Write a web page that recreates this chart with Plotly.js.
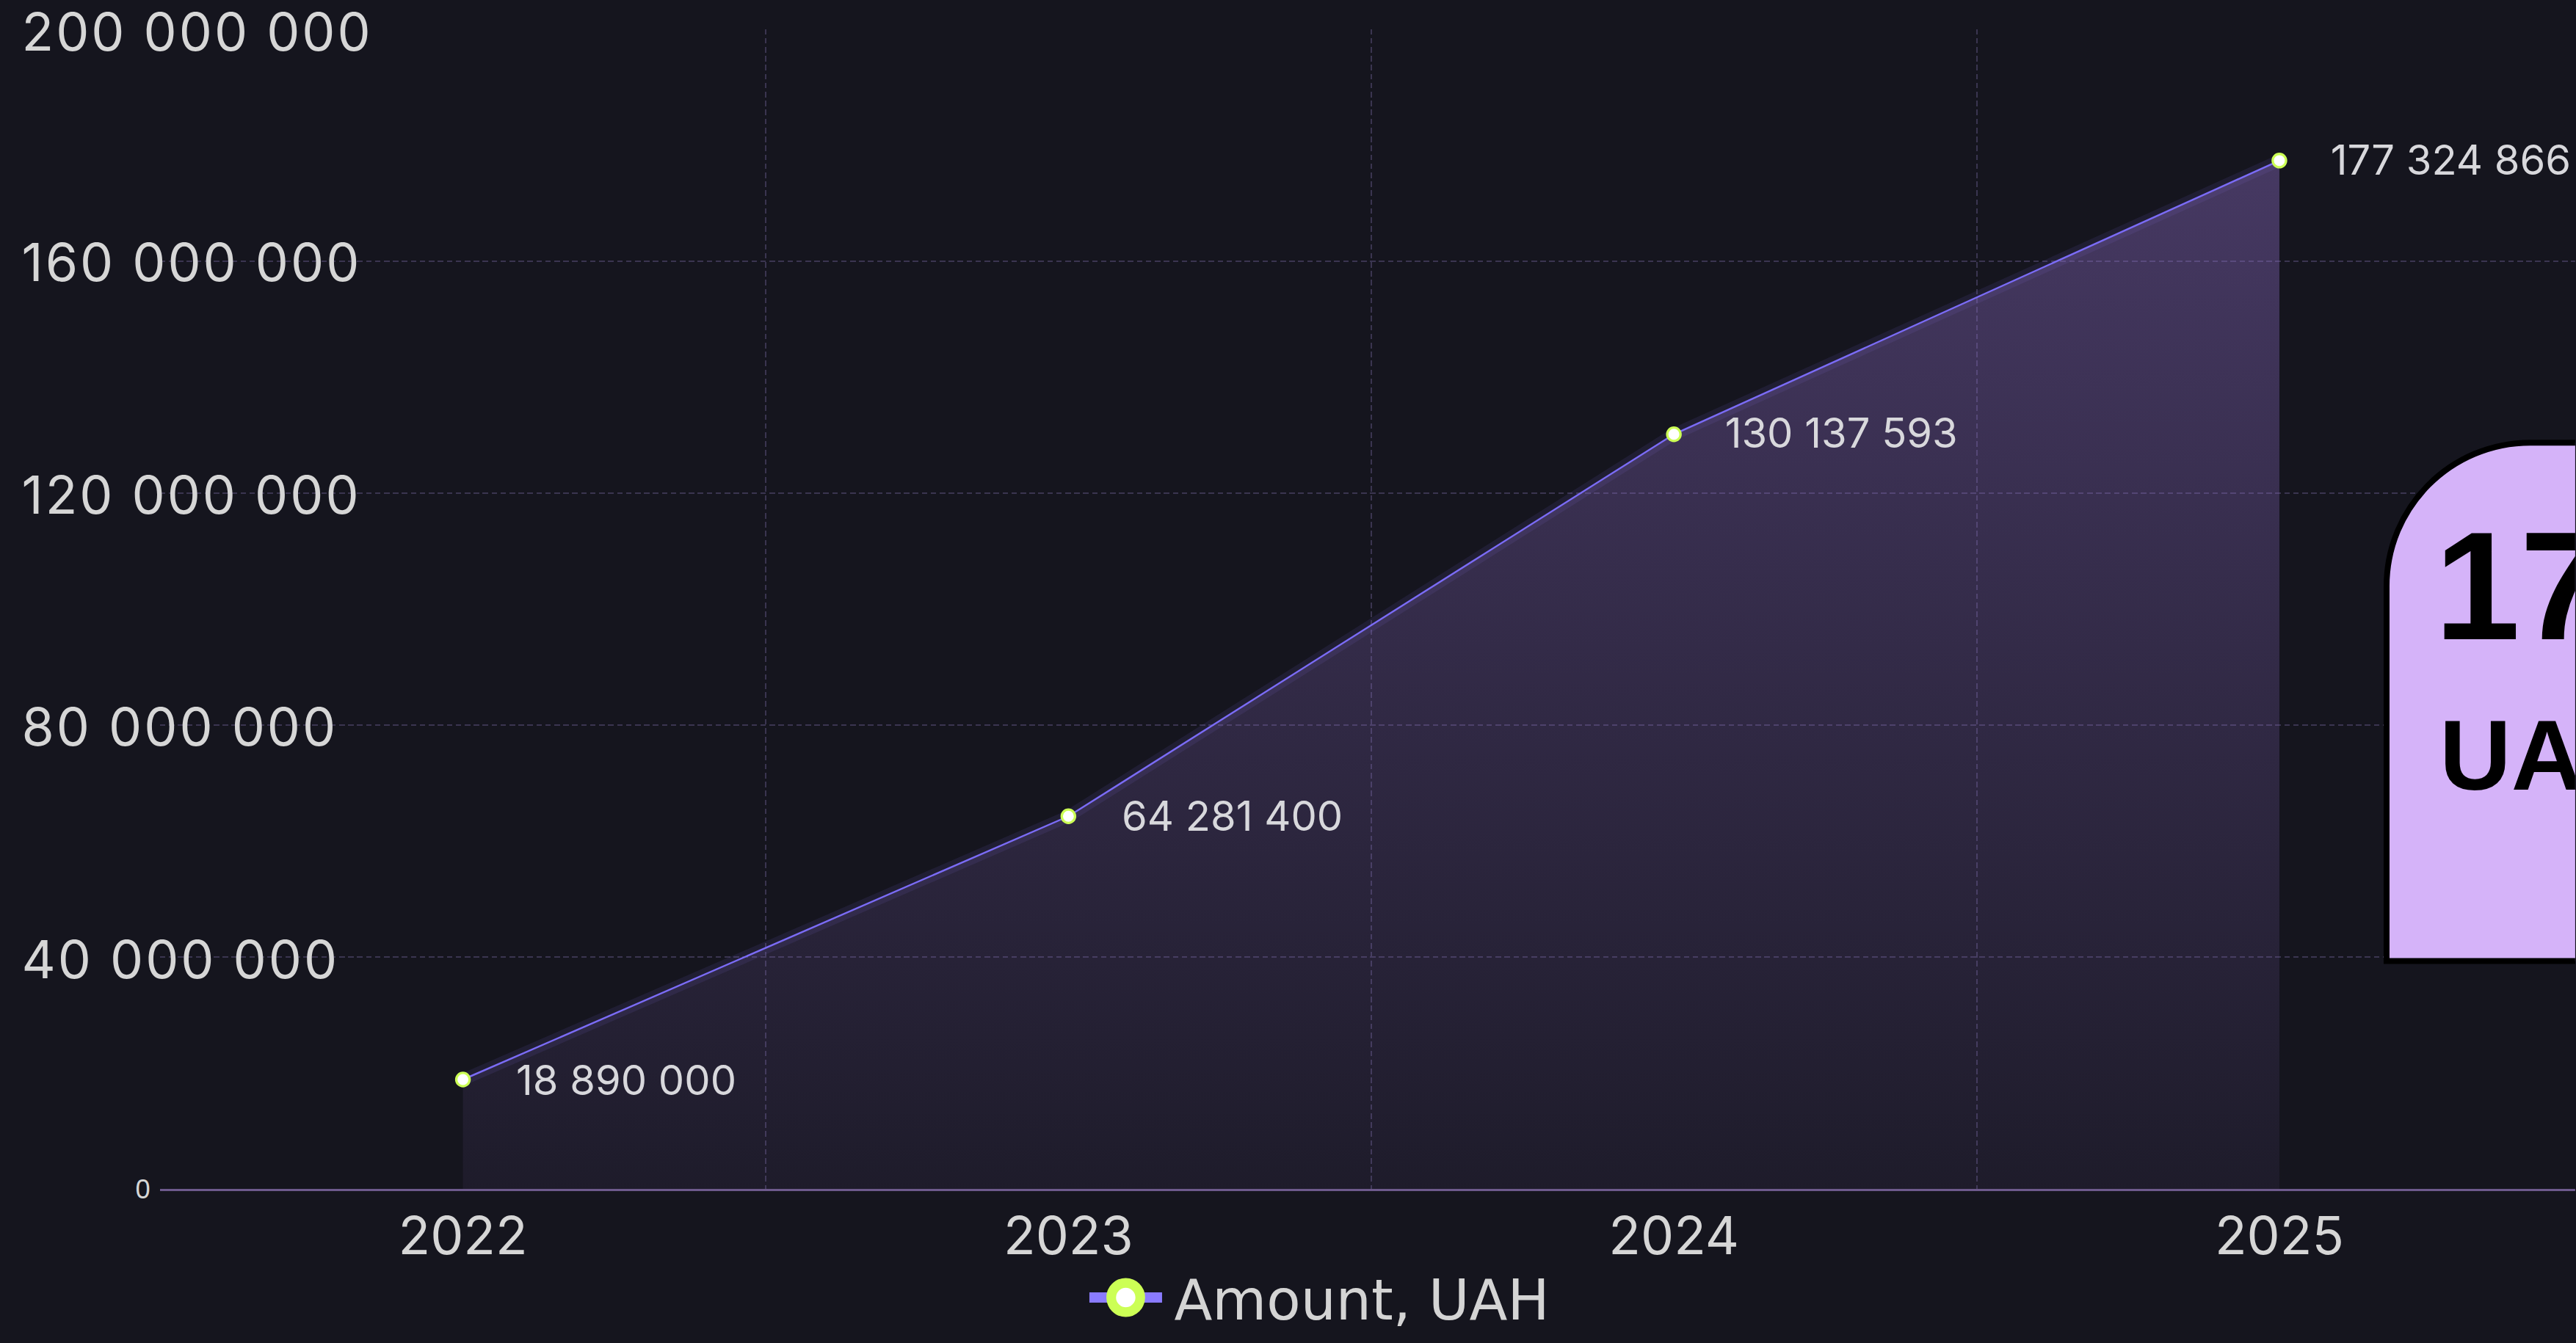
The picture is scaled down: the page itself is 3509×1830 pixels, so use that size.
<!DOCTYPE html>
<html>
<head>
<meta charset="utf-8">
<script src="https://cdn.plot.ly/plotly-3.0.1.min.js"></script>
<style>
html, body { margin: 0; padding: 0; background: #15151e; overflow: hidden; width: 3509px; height: 1830px; }
#chart { transform-origin: 0 0; }
</style>
</head>
<body>
<div id="chart"></div>
<script>
// ---- data ----
const years = ['2022', '2023', '2024', '2025'];
const amounts = [18890000, 64281400, 130137593, 177324866];
const amountLabels = ['18 890 000', '64 281 400', '130 137 593', '177 324 866'];
const yTickVals = [0, 40000000, 80000000, 120000000, 160000000, 200000000];
const yTickText = ['0', '40 000 000', '80 000 000', '120 000 000', '160 000 000', '200 000 000'];
const seriesName = 'Amount, UAH';
const calloutUnit = 'UAH';

// ---- geometry (whole figure drawn at 1/S and scaled up by CSS) ----
const S = 3.3;
const W = 3509 / S, H = 1830 / S;
const M = { l: 218 / S, r: 0, t: 38 / S, b: H - 1620 / S };
const plotW = W - M.l - M.r, plotH = H - M.t - M.b;
const unitPx = 825 / S;
const px = v => (v / S - M.l) / plotW;     // full-size pixel -> paper x
const py = v => 1 - (v / S - M.t) / plotH; // full-size pixel -> paper y

const el = document.getElementById('chart');
el.style.width = W + 'px';
el.style.height = H + 'px';
el.style.transform = 'scale(' + S + ')';

const gridColor = '#3a3550';
const gridDash = '2.3px,1.4px';
const textColor = '#d6d6d6';

const glowTrace = {
  x: years, y: amounts, type: 'scatter', mode: 'lines',
  showlegend: false, hoverinfo: 'skip',
  line: { color: 'rgba(140,120,250,0.10)', width: 5 }
};

const mainTrace = {
  x: years, y: amounts, type: 'scatter', mode: 'lines+markers',
  showlegend: false, hoverinfo: 'skip',
  fill: 'tozeroy',
  fillgradient: {
    type: 'vertical',
    start: 0, stop: Math.max(...amounts),
    colorscale: [[0, 'rgba(150,115,210,0.07)'], [1, 'rgba(150,115,210,0.38)']]
  },
  line: { color: '#7b6cf6', width: 0.75 },
  marker: { size: 5.5, color: '#ffffff', line: { color: '#ccff55', width: 1 } }
};

const legendTrace = {
  x: [null], y: [null], type: 'scatter', mode: 'lines+markers',
  name: seriesName, hoverinfo: 'skip',
  line: { color: '#8a7bff', width: 4.3 },
  marker: { size: 12, color: '#ffffff', line: { color: '#ccff55', width: 4 } }
};

const annotations = [];
// y tick labels (large, left aligned)
yTickVals.forEach((v, i) => {
  if (v === 0) return;
  annotations.push({
    x: 0, xref: 'paper', y: v, yref: 'y',
    text: '<span style="letter-spacing:0.9px">' + yTickText[i] + '</span>', showarrow: false,
    xanchor: 'left', yanchor: 'middle', xshift: -59, yshift: -0.6,
    font: { family: 'Inter', size: 21.7, color: textColor }
  });
});
// data labels (category axis: position = category index)
amounts.forEach((v, i) => {
  annotations.push({
    x: years.indexOf(years[i]), xref: 'x', y: v, yref: 'y', text: amountLabels[i], showarrow: false,
    xanchor: 'left', yanchor: 'middle', xshift: 19.5,
    font: { family: 'Inter', size: 17, color: '#d8d8dc' }
  });
});
// callout texts
annotations.push({
  x: px(3312), xref: 'paper', y: py(798), yref: 'paper', text: '<b>' + amountLabels[amountLabels.length - 1] + '</b>',
  showarrow: false, xanchor: 'left', yanchor: 'middle',
  font: { family: 'Liberation Sans', size: 63.4, color: '#000000' }
});
annotations.push({
  x: px(3318), xref: 'paper', y: py(1030), yref: 'paper', text: '<b>' + calloutUnit + '</b>',
  showarrow: false, xanchor: 'left', yanchor: 'middle',
  font: { family: 'Liberation Sans', size: 41, color: '#000000' }
});

// callout card (rounded top-left corner, runs off the right edge)
const bx0 = 3252, by0 = 602, by1 = 1309, bx1 = 3700, br = 196, k = 0.5523;
const cardPath =
  'M' + px(bx0) + ',' + py(by1) +
  ' L' + px(bx0) + ',' + py(by0 + br) +
  ' C' + px(bx0) + ',' + py(by0 + br - k * br) + ' ' + px(bx0 + br - k * br) + ',' + py(by0) + ' ' + px(bx0 + br) + ',' + py(by0) +
  ' L' + px(bx1) + ',' + py(by0) +
  ' L' + px(bx1) + ',' + py(by1) + ' Z';

const layout = {
  width: W, height: H, autosize: false,
  margin: { l: M.l, r: M.r, t: M.t, b: M.b, pad: 0, autoexpand: false },
  paper_bgcolor: '#15151e', plot_bgcolor: '#15151e',
  xaxis: {
    type: 'category', range: [-0.5005, -0.5005 + plotW / unitPx],
    tickson: 'boundaries', ticks: '',
    showgrid: true, gridcolor: gridColor, gridwidth: 0.6, griddash: gridDash,
    showline: true, linecolor: '#6e5a8c', linewidth: 0.7,
    zeroline: false, fixedrange: true,
    tickfont: { family: 'Inter', size: 21.7, color: textColor }
  },
  yaxis: {
    range: [0, 200000000], tickvals: yTickVals,
    ticktext: yTickVals.map((v, i) => v === 0 ? yTickText[i] : ''),
    ticks: '', showline: false, zeroline: false, fixedrange: true,
    ticklabelstandoff: 3,
    showgrid: true, gridcolor: gridColor, gridwidth: 0.6, griddash: gridDash,
    tickfont: { family: 'Liberation Sans', size: 11, color: textColor }
  },
  showlegend: true,
  legend: {
    orientation: 'h', x: px(1468), xanchor: 'left', y: py(1839), yanchor: 'bottom',
    bgcolor: 'rgba(0,0,0,0)', borderwidth: 0, itemsizing: 'trace',
    font: { family: 'DejaVu Sans', size: 23, color: '#d4d4d4' }
  },
  shapes: [{
    type: 'path', xref: 'paper', yref: 'paper', path: cardPath, layer: 'above',
    fillcolor: '#d5b3f9', line: { color: '#000000', width: 8 / S }
  }],
  annotations: annotations
};

Plotly.newPlot(el, [glowTrace, mainTrace, legendTrace], layout, { staticPlot: true, displayModeBar: false });
</script>
</body>
</html>
